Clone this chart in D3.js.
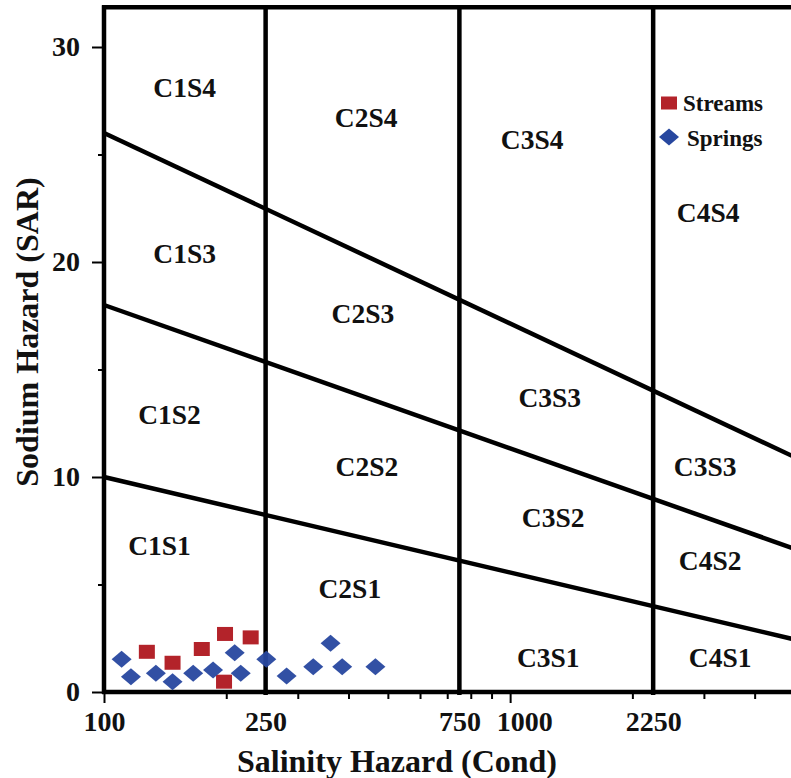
<!DOCTYPE html>
<html>
<head>
<meta charset="utf-8">
<script src="https://cdn.jsdelivr.net/npm/d3@7"></script>
<style>
  html, body { margin: 0; padding: 0; background: #fff; }
  svg { display: block; }
  text { font-family: "Liberation Serif", "Times New Roman", serif; font-weight: bold; fill: #111; }
</style>
</head>
<body>
<div id="chart"></div>
<script>
// ---------- data ----------
const xTickLabels = [100, 250, 750, 1000, 2250];
const xMinorTicks = [200, 300, 400, 500, 600, 700, 800, 900, 2000, 3000, 4000];
const yTickLabels = [0, 10, 20, 30];
const yMinorTicks = [5, 15, 25];
const salinityBounds = [250, 750, 2250];
// sodium-hazard boundary lines: SAR at EC = 100 and at EC = 5000
const sodiumLeft = [10, 18, 26];
const sodiumRight = [2.45, 6.67, 10.94];
const zoneNames = ["C1S4","C2S4","C3S4","C4S4","C1S3","C2S3","C3S3","C3S3",
                   "C1S2","C2S2","C3S2","C4S2","C1S1","C2S1","C3S1","C4S1"];
const zoneEC  = [158, 442, 1133, 3073, 158, 434, 1252, 3022,
                 145, 444, 1276, 3109, 137, 403, 1241, 3290];
const zoneSAR = [28.1, 26.7, 25.7, 22.3, 20.4, 17.6, 13.7, 10.5,
                 12.9, 10.5, 8.1, 6.1, 6.8, 4.8, 1.6, 1.6];
const streamsEC  = [127.5, 147.5, 174.1, 198.6, 229.7, 197.5];
const streamsSAR = [1.87, 1.36, 2.0, 2.70, 2.54, 0.48];
const springsEC  = [110.5, 116.5, 134.2, 147.5, 165.8, 185.6, 209.8, 217.1, 251.0, 281.6, 327.5, 361.3, 385.9, 465.9];
const springsSAR = [1.52, 0.71, 0.87, 0.48, 0.87, 1.02, 1.83, 0.87, 1.52, 0.74, 1.18, 2.27, 1.18, 1.18];
const legendNames = ["Streams", "Springs"];
const ecMin = 100, ecMax = 5000, sarMax = 31.85;

// ---------- layout ----------
const W = 791, H = 778;
const x = d3.scaleLog().domain([ecMin, ecMax]).range([104, 794]);
const y = d3.scaleLinear().domain([0, 30]).range([692, 47]);
const red = "#b3232a", blue = "#27479f";

const svg = d3.select("#chart").append("svg").attr("width", W).attr("height", H);
svg.append("rect").attr("width", W).attr("height", H).attr("fill", "#fff");

const g = svg.append("g");

// class boundary lines
const lw = 4.5;
g.selectAll("line.vb").data(salinityBounds).join("line")
  .attr("x1", d => x(d)).attr("x2", d => x(d))
  .attr("y1", y(0) + 3).attr("y2", y(sarMax))
  .attr("stroke", "#000").attr("stroke-width", lw);

const sodium = sodiumLeft.map((v, i) => [[ecMin, v], [ecMax, sodiumRight[i]]]);
const line = d3.line().x(d => x(d[0])).y(d => y(d[1]));
g.selectAll("path.sb").data(sodium).join("path")
  .attr("d", line).attr("fill", "none").attr("stroke", "#000").attr("stroke-width", lw);

// frame
g.append("line").attr("x1", x(ecMin)).attr("x2", x(ecMin)).attr("y1", y(0) + 2).attr("y2", y(sarMax) - 2)
  .attr("stroke", "#000").attr("stroke-width", lw);
g.append("line").attr("x1", x(ecMin) - 2).attr("x2", W).attr("y1", y(sarMax)).attr("y2", y(sarMax))
  .attr("stroke", "#000").attr("stroke-width", lw);
g.append("line").attr("x1", x(ecMin) - 2).attr("x2", W).attr("y1", y(0)).attr("y2", y(0))
  .attr("stroke", "#000").attr("stroke-width", lw);

// axes
const xAxis = g.append("g").attr("transform", `translate(0,${y(0)})`)
  .call(d3.axisBottom(x).tickValues(xTickLabels).tickFormat(d3.format("d")).tickSize(11).tickPadding(8));
xAxis.select(".domain").remove();
xAxis.selectAll(".tick line").attr("stroke", "#000").attr("stroke-width", 2)
  .attr("y2", d => salinityBounds.includes(d) ? 3 : 11);
xAxis.selectAll(".tick text").attr("font-size", 28).attr("fill", "#111")
  .attr("dx", d => d === 1000 ? 14 : 0);

const xMinor = g.append("g").attr("transform", `translate(0,${y(0)})`)
  .call(d3.axisBottom(x).tickValues(xMinorTicks).tickFormat("").tickSize(7));
xMinor.select(".domain").remove();
xMinor.selectAll(".tick line").attr("stroke", "#000").attr("stroke-width", 2);

const yAxis = g.append("g").attr("transform", `translate(${x(ecMin)},0)`)
  .call(d3.axisLeft(y).tickValues(yTickLabels).tickSize(12).tickPadding(12));
yAxis.select(".domain").remove();
yAxis.selectAll(".tick line").attr("stroke", "#000").attr("stroke-width", 2);
yAxis.selectAll(".tick text").attr("font-size", 28).attr("fill", "#111");

const yMinor = g.append("g").attr("transform", `translate(${x(ecMin)},0)`)
  .call(d3.axisLeft(y).tickValues(yMinorTicks).tickFormat("").tickSize(6));
yMinor.select(".domain").remove();
yMinor.selectAll(".tick line").attr("stroke", "#000").attr("stroke-width", 2);

// zone labels
g.selectAll("text.zone").data(zoneNames).join("text")
  .attr("class", "zone")
  .attr("x", (d, i) => x(zoneEC[i])).attr("y", (d, i) => y(zoneSAR[i]))
  .attr("text-anchor", "middle").attr("dominant-baseline", "central")
  .attr("font-size", 27.5).text(d => d);

// axis titles
svg.append("text").attr("x", 397).attr("y", 772).attr("text-anchor", "middle")
  .attr("font-size", 32).text("Salinity Hazard (Cond)");
svg.append("text").attr("transform", "translate(38,332) rotate(-90)").attr("text-anchor", "middle")
  .attr("font-size", 32).text("Sodium Hazard (SAR)");

// points
const diamond = "M-10,0L0,-8.5L10,0L0,8.5Z";
const springs = springsEC.map((v, i) => [v, springsSAR[i]]);
const streams = streamsEC.map((v, i) => [v, streamsSAR[i]]);
g.selectAll("rect.st").data(streams).join("rect")
  .attr("x", d => x(d[0]) - 8).attr("y", d => y(d[1]) - 7)
  .attr("width", 16).attr("height", 14).attr("fill", red);
g.selectAll("path.sp").data(springs).join("path")
  .attr("transform", d => `translate(${x(d[0])},${y(d[1])})`)
  .attr("d", diamond).attr("fill", blue).attr("fill-opacity", 0.95);

// legend
const lg = svg.append("g");
lg.append("rect").attr("x", 661).attr("y", 96.5).attr("width", 16).attr("height", 13).attr("fill", red);
lg.append("path").attr("transform", "translate(669,137)").attr("d", diamond).attr("fill", blue);
lg.append("text").attr("x", 683).attr("y", 111).attr("font-size", 23).text(legendNames[0]);
lg.append("text").attr("x", 687).attr("y", 146).attr("font-size", 23).text(legendNames[1]);
</script>
</body>
</html>
